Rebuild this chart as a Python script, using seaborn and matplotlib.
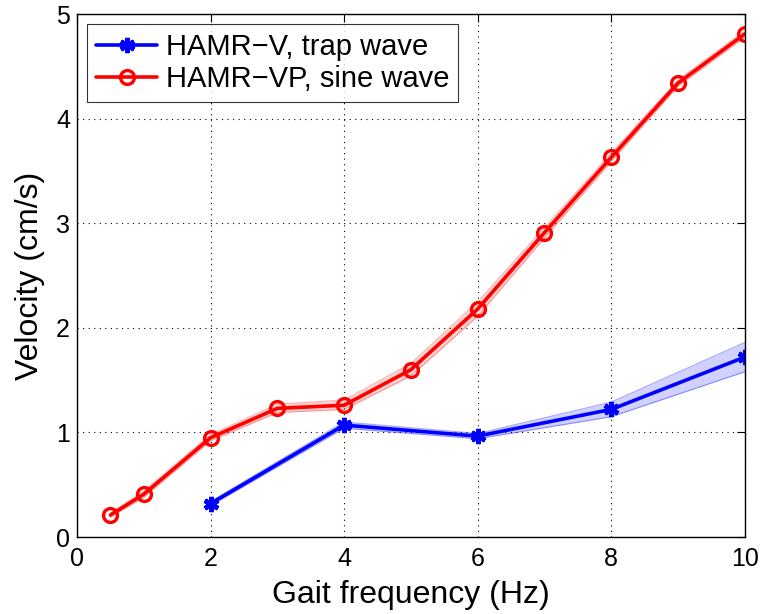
import numpy as np
import pandas as pd
import matplotlib
matplotlib.use("Agg")
import matplotlib.pyplot as plt
import seaborn as sns

# --- datos ---
freq_v = [2, 4, 6, 8, 10]
vel_v = [0.32, 1.07, 0.965, 1.22, 1.72]
lo_v = [0.30, 1.04, 0.94, 1.15, 1.58]
hi_v = [0.34, 1.10, 0.99, 1.29, 1.86]

freq_vp = [0.5, 1, 2, 3, 4, 5, 6, 7, 8, 9, 10]
vel_vp = [0.21, 0.41, 0.95, 1.23, 1.26, 1.60, 2.18, 2.91, 3.63, 4.34, 4.81]
lo_vp = [0.19, 0.38, 0.92, 1.19, 1.22, 1.54, 2.11, 2.86, 3.59, 4.31, 4.78]
hi_vp = [0.23, 0.44, 0.98, 1.27, 1.31, 1.66, 2.25, 2.96, 3.67, 4.37, 4.84]

label_v = "HAMR\u2212V, trap wave"
label_vp = "HAMR\u2212VP, sine wave"

sns.set_style("white")
plt.rcParams["font.family"] = ["Liberation Sans", "DejaVu Sans"]
plt.rcParams["text.color"] = "black"
plt.rcParams["axes.labelcolor"] = "black"

fig = plt.figure(figsize=(7.63, 6.14), dpi=100)
ax = fig.add_axes([0.101, 0.1254, 0.875, 0.8516])

# bandas de incertidumbre
ax.fill_between(freq_v, lo_v, hi_v, color="#0000ff", alpha=0.18, lw=0)
ax.plot(freq_v, lo_v, color="#0000ff", alpha=0.35, lw=0.8)
ax.plot(freq_v, hi_v, color="#0000ff", alpha=0.35, lw=0.8)
ax.fill_between(freq_vp, lo_vp, hi_vp, color="#ff0000", alpha=0.18, lw=0)
ax.plot(freq_vp, lo_vp, color="#ff0000", alpha=0.3, lw=0.8)
ax.plot(freq_vp, hi_vp, color="#ff0000", alpha=0.3, lw=0.8)

df_v = pd.DataFrame({"f": freq_v, "v": vel_v})
df_vp = pd.DataFrame({"f": freq_vp, "v": vel_vp})

# asterisco grueso estilo MATLAB
sns.lineplot(data=df_v, x="f", y="v", ax=ax, color="#0000ff", lw=2.6,
             marker=(6, 2, 0), markersize=11, markeredgewidth=3.4,
             markeredgecolor="#0000ff", markerfacecolor="#0000ff", label=label_v)
sns.lineplot(data=df_vp, x="f", y="v", ax=ax, color="#ff0000", lw=2.6,
             marker="o", markersize=10, markeredgewidth=2.4,
             markeredgecolor="#ff0000", markerfacecolor="none", label=label_vp)

ax.set_xlim(0, 10)
ax.set_ylim(0, 5)
ax.set_xticks([0, 2, 4, 6, 8, 10])
ax.set_yticks([0, 1, 2, 3, 4, 5])
ax.grid(True, color="black", linestyle=(0, (1, 4)), linewidth=0.8)
ax.tick_params(direction="in", top=True, right=True, length=6, width=0.8,
               labelsize=18, colors="black")
ax.tick_params(axis="x", pad=7)
ax.tick_params(axis="y", pad=5)
for s in ax.spines.values():
    s.set_visible(True)
    s.set_color("black")
    s.set_linewidth(1.0)

ax.set_xlabel("Gait frequency (Hz)", fontsize=23, labelpad=7)
ax.set_ylabel("Velocity (cm/s)", fontsize=23, labelpad=8)

leg = ax.legend(loc="upper left", fontsize=21, frameon=True, fancybox=False,
                edgecolor="black", borderaxespad=0.35, handlelength=2.1,
                borderpad=0.3, labelspacing=0.15, handletextpad=0.3)
leg.get_frame().set_linewidth(0.8)

fig.savefig("out.png", dpi=100)
plt.close(fig)
